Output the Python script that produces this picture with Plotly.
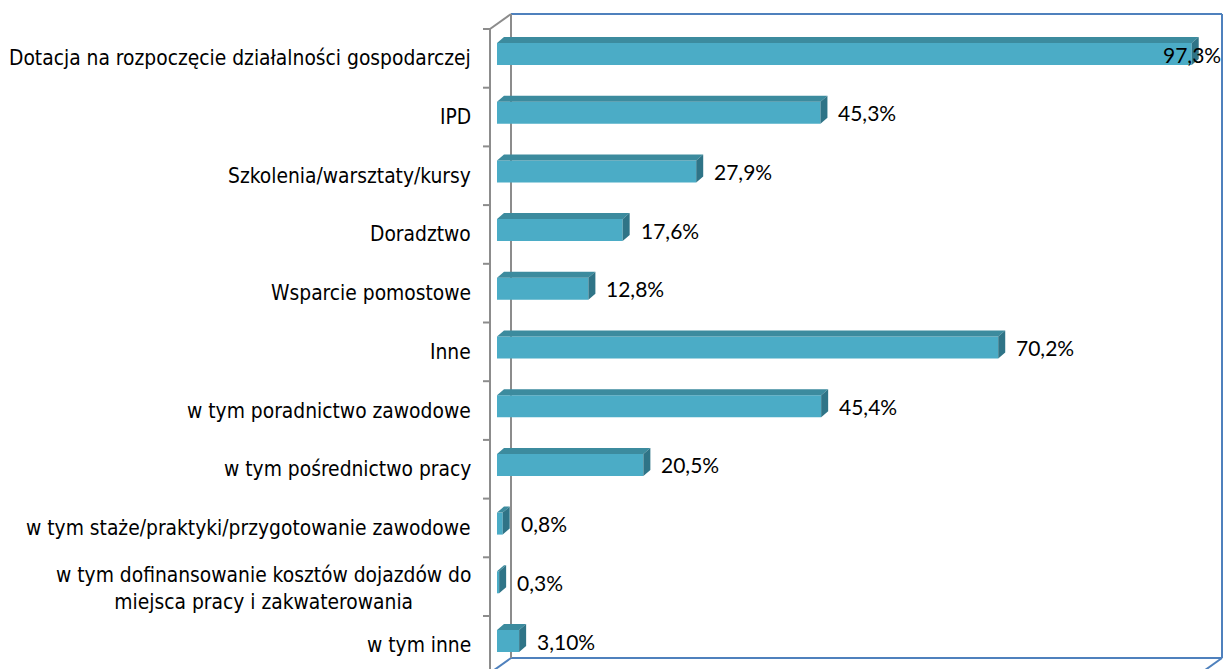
import plotly.graph_objects as go

# Categories (top to bottom) and shares in percent
categories = [
    "Dotacja na rozpoczęcie działalności gospodarczej",
    "IPD",
    "Szkolenia/warsztaty/kursy",
    "Doradztwo",
    "Wsparcie pomostowe",
    "Inne",
    "w tym poradnictwo zawodowe",
    "w tym pośrednictwo pracy",
    "w tym staże/praktyki/przygotowanie zawodowe",
    "w tym dofinansowanie kosztów dojazdów do<br>miejsca pracy i zakwaterowania",
    "w tym inne",
]
values = [97.3, 45.3, 27.9, 17.6, 12.8, 70.2, 45.4, 20.5, 0.8, 0.3, 3.1]
value_labels = ["97,3%", "45,3%", "27,9%", "17,6%", "12,8%", "70,2%",
                "45,4%", "20,5%", "0,8%", "0,3%", "3,10%"]

W, H = 1225, 669
L = 490                 # left edge of plot area (front axis line)
PX_PER_PCT = 7.14       # horizontal scale
ZERO_PX = 497           # pixel of 0 %
ROW = 58.7              # pixels per category row
FRONT0 = 54             # pixel centre of first bar's front face
TICK0 = 29              # pixel of first category boundary

x_lo = (L - ZERO_PX) / PX_PER_PCT
x_hi = (W - ZERO_PX) / PX_PER_PCT
y_top = -FRONT0 / ROW
y_bot = (H - FRONT0) / ROW

FRONT_COL = "#4BACC6"
TOP_COL = "#3C8B9E"
SIDE_COL = "#2F7487"
WALL_BLUE = "#4F81BD"
GREY = "#8C8C8C"

half = 11 / ROW          # half height of bar front face
dx = 7 / PX_PER_PCT      # depth offset of the 3D faces
dy = 6 / ROW
label_off = (TICK0 + ROW / 2 - FRONT0) / ROW   # category label vs bar centre

ypos = list(range(len(categories)))

fig = go.Figure()

# front faces
fig.add_trace(go.Bar(
    x=values, y=ypos, orientation="h", width=2 * half,
    marker=dict(color=FRONT_COL, line=dict(width=0)),
    hoverinfo="skip",
))

# top faces
tx, ty = [], []
for v, y in zip(values, ypos):
    t = y - half
    tx += [0, v, v + dx, dx, 0, None]
    ty += [t, t, t - dy, t - dy, t, None]
fig.add_trace(go.Scatter(x=tx, y=ty, mode="lines", fill="toself",
                         fillcolor=TOP_COL, line=dict(width=0),
                         hoverinfo="skip"))

# side faces
sx, sy = [], []
for v, y in zip(values, ypos):
    t, b = y - half, y + half
    sx += [v, v + dx, v + dx, v, v, None]
    sy += [t, t - dy, b - dy, b, t, None]
fig.add_trace(go.Scatter(x=sx, y=sy, mode="lines", fill="toself",
                         fillcolor=SIDE_COL, line=dict(width=0),
                         hoverinfo="skip"))


def px_x(p):
    return (p - L) / (W - L)


def px_y(p):
    return 1 - p / H


shapes = []


def seg(x0, y0, x1, y1, color):
    shapes.append(dict(type="line", xref="paper", yref="paper",
                       x0=px_x(x0), y0=px_y(y0), x1=px_x(x1), y1=px_y(y1),
                       line=dict(color=color, width=2), layer="below"))


# back wall and floor edges
seg(511, 14, 1222, 14, WALL_BLUE)
seg(1222, 14, 1222, 658, WALL_BLUE)
seg(511, 658, 1222, 658, WALL_BLUE)
seg(511, 658, 490, 673, WALL_BLUE)
seg(1222, 658, 1201, 673, WALL_BLUE)
# side wall edges
seg(511, 14, 511, 658, GREY)
seg(490, 29, 511, 14, GREY)
seg(490, 29, 490, 672, GREY)
# category ticks
for k in range(len(categories) + 1):
    yy = TICK0 + ROW * k
    seg(483, yy, 490, yy, GREY)

annotations = []
for i, c in enumerate(categories):
    annotations.append(dict(
        text=c, xref="paper", x=px_x(473), xanchor="right",
        yref="y", y=i + label_off, yanchor="middle", align="center",
        yshift=-2 if "<br>" in c else 0,
        showarrow=False,
        font=dict(family="DejaVu Sans Condensed, DejaVu Sans", size=20.8, color="#000000"),
    ))
for v, y, lab in zip(values, ypos, value_labels):
    edge = v > 95
    annotations.append(dict(
        text=lab, xref="x", x=v, yref="y", y=y, yanchor="middle",
        xanchor="right" if edge else "left",
        xshift=31 if edge else 16,
        showarrow=False,
        font=dict(family="Lato, Open Sans", size=21, color="#000000"),
    ))

fig.update_layout(
    width=W, height=H,
    margin=dict(l=L, r=0, t=0, b=0),
    plot_bgcolor="white", paper_bgcolor="white",
    showlegend=False,
    xaxis=dict(range=[x_lo, x_hi], visible=False, fixedrange=True),
    yaxis=dict(range=[y_bot, y_top], visible=False, fixedrange=True),
    shapes=shapes,
    annotations=annotations,
)

fig.write_html("out.html")
